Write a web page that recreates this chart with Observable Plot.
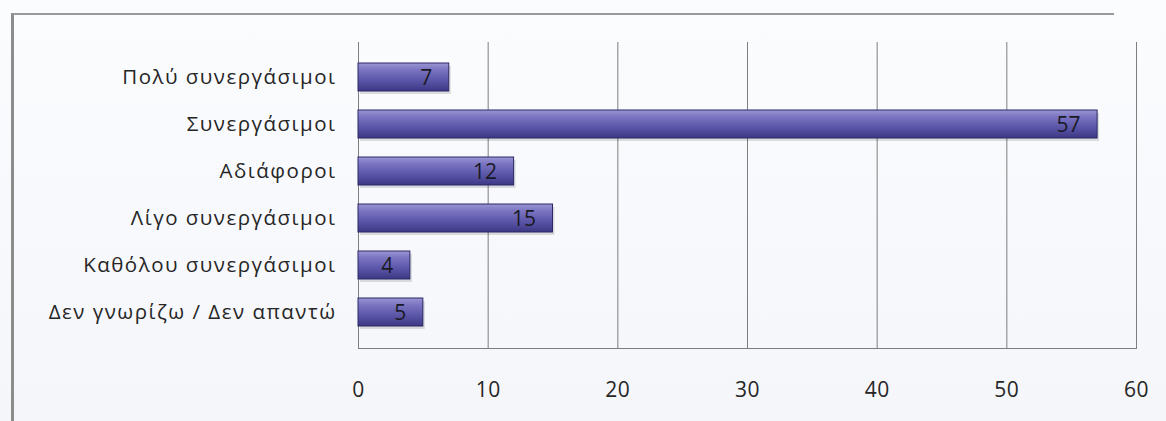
<!DOCTYPE html>
<html>
<head>
<meta charset="utf-8">
<script src="https://cdn.jsdelivr.net/npm/d3@7"></script>
<script src="https://cdn.jsdelivr.net/npm/@observablehq/plot@0.6"></script>
<style>
  html, body { margin: 0; padding: 0; background: #f8fafd; }
  #wrap { position: relative; width: 1166px; height: 421px; overflow: hidden;
          background: linear-gradient(180deg, #fbfcfe 0%, #f4f6fa 100%); }
  #frame { position: absolute; left: 11px; top: 13px; width: 1100px; height: 420px;
           border-left: 3px solid #8c8c8c; border-top: 2px solid #9a9a9a; }
  #chart { position: absolute; left: 0; top: 0; }
</style>
</head>
<body>
<div id="wrap">
  <div id="frame"></div>
  <div id="chart"></div>
</div>
<script>
const categories = [
  "Πολύ συνεργάσιμοι",
  "Συνεργάσιμοι",
  "Αδιάφοροι",
  "Λίγο συνεργάσιμοι",
  "Καθόλου συνεργάσιμοι",
  "Δεν γνωρίζω / Δεν απαντώ"
];
const values = [7, 57, 12, 15, 4, 5];
const xTicks = [0, 10, 20, 30, 40, 50, 60];

const data = categories.map((c, i) => ({category: c, value: values[i]}));

const chart = Plot.plot({
  width: 1166,
  height: 421,
  marginLeft: 358,
  marginRight: 30,
  marginTop: 42,
  marginBottom: 73,
  style: {background: "transparent", fontFamily: "Open Sans", color: "#222"},
  x: {domain: [0, 60], ticks: xTicks, label: null},
  y: {domain: categories, padding: 0.4, label: null},
  marks: [
    Plot.gridX(xTicks, {stroke: "#7e7e7e", strokeOpacity: 1, strokeWidth: 1}),
    Plot.frame({anchor: "bottom", stroke: "#7e7e7e"}),
    Plot.barX(data, {x: "value", y: "category", fill: "#000", fillOpacity: 0.12,
                     dy: 3, dx: 2}),
    Plot.barX(data, {x: "value", y: "category", fill: "url(#barGrad)",
                     stroke: "#2c2866", strokeWidth: 1}),
    Plot.text(data, {x: "value", y: "category", text: d => String(d.value),
                     textAnchor: "end", dx: -17, dy: 1, fontSize: 21, fill: "#1a1a26"}),
    Plot.axisX({ticks: xTicks, tickSize: 0, tickPadding: 34, fontSize: 21,
                fill: "#262626", label: null}),
    Plot.axisY({tickSize: 0, tickPadding: 22, fontSize: 20.5, fill: "#262626", label: null})
  ]
});

const svg = d3.select(chart);
const defs = svg.insert("defs", ":first-child");
const g = defs.append("linearGradient").attr("id", "barGrad")
  .attr("x1", 0).attr("y1", 0).attr("x2", 0).attr("y2", 1);
g.append("stop").attr("offset", "0%").attr("stop-color", "#9a95d4");
g.append("stop").attr("offset", "25%").attr("stop-color", "#7a74c1");
g.append("stop").attr("offset", "60%").attr("stop-color", "#5d57aa");
g.append("stop").attr("offset", "100%").attr("stop-color", "#3c3884");

svg.selectAll('g[aria-label="y-axis tick label"] text').style("letter-spacing", "1.5px");
svg.selectAll('g[aria-label="x-axis tick label"] text').style("letter-spacing", "0.5px");

document.getElementById("chart").appendChild(chart);
</script>
</body>
</html>
